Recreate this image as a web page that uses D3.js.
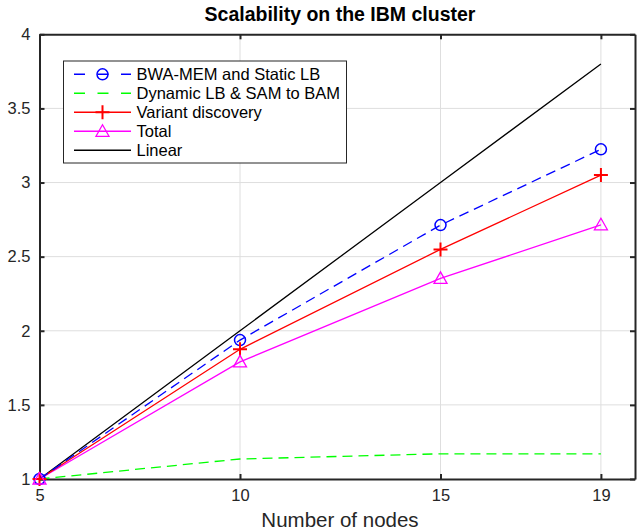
<!DOCTYPE html>
<html lang="en">
<head>
<meta charset="utf-8">
<title>Scalability</title>
<script src="https://cdn.jsdelivr.net/npm/d3@7"></script>
<style>
  body { margin: 0; background: #fff; }
  text { font-family: "Liberation Sans", Arial, sans-serif; }
</style>
</head>
<body>
<script>
// data
var nodes = [5, 10, 15, 19];
var bwaMem = [1, 1.937, 2.713, 3.224];
var dynamicLB = [1, 1.135, 1.17, 1.17];
var variantDisc = [1, 1.875, 2.549, 3.05];
var total = [1, 1.79, 2.353, 2.715];
var linear = [1, 2, 3, 3.8];
var yTicks = [1, 1.5, 2, 2.5, 3, 3.5, 4];

var series = [
  {name: "BWA-MEM and Static LB", values: bwaMem, color: "#0000ff", dash: "10,6", marker: "circle"},
  {name: "Dynamic LB & SAM to BAM", values: dynamicLB, color: "#00ff00", dash: "10,6", marker: null},
  {name: "Variant discovery", values: variantDisc, color: "#ff0000", dash: null, marker: "plus"},
  {name: "Total", values: total, color: "#ff00ff", dash: null, marker: "triangle"},
  {name: "Linear", values: linear, color: "#000000", dash: null, marker: null}
];

var width = 637, height = 531;
var plotLeft = 39.5, plotRight = 635, plotTop = 34.3, plotBottom = 479;

var xScale = d3.scaleLinear().domain([5, 19.85]).range([plotLeft, plotRight]);
var yScale = d3.scaleLinear().domain([1, 4]).range([plotBottom, plotTop]);

var svg = d3.select("body").append("svg")
    .attr("width", width)
    .attr("height", height);

// grid
svg.append("g").selectAll("line")
    .data(nodes.slice(1))
    .enter().append("line")
    .attr("x1", function(d) { return xScale(d); })
    .attr("x2", function(d) { return xScale(d); })
    .attr("y1", plotTop).attr("y2", plotBottom)
    .attr("stroke", "#dedede").attr("stroke-width", 1);

svg.append("g").selectAll("line")
    .data(yTicks.slice(1, -1))
    .enter().append("line")
    .attr("y1", function(d) { return yScale(d); })
    .attr("y2", function(d) { return yScale(d); })
    .attr("x1", plotLeft).attr("x2", plotRight)
    .attr("stroke", "#dedede").attr("stroke-width", 1);

// axes
var xAxis = d3.axisBottom(xScale).tickValues(nodes).tickSizeInner(-5).tickSizeOuter(0).tickPadding(10);
var yAxis = d3.axisLeft(yScale).tickValues(yTicks).tickFormat(String)
    .tickSizeInner(-5).tickSizeOuter(0).tickPadding(9);
var xTop = d3.axisTop(xScale).tickValues(nodes).tickSizeInner(-5).tickSizeOuter(0).tickFormat("");
var yRight = d3.axisRight(yScale).tickValues(yTicks).tickSizeInner(-5).tickSizeOuter(0).tickFormat("");

function styleAxis(g) {
  g.select(".domain").attr("stroke", "#262626").attr("stroke-width", 2);
  g.selectAll(".tick line").attr("stroke", "#262626").attr("stroke-width", 2);
  g.selectAll(".tick text").attr("fill", "#262626").style("font-size", "16.5px")
    .style("font-family", "'Liberation Sans', Arial, sans-serif");
}

svg.append("g").attr("transform", "translate(0," + plotBottom + ")").call(xAxis).call(styleAxis);
svg.append("g").attr("transform", "translate(" + plotLeft + ",0)").call(yAxis).call(styleAxis);
svg.append("g").attr("transform", "translate(0," + plotTop + ")").call(xTop).call(styleAxis);
svg.append("g").attr("transform", "translate(" + plotRight + ",0)").call(yRight).call(styleAxis);

// lines
var line = d3.line()
    .x(function(d, i) { return xScale(nodes[i]); })
    .y(function(d) { return yScale(d); });

function drawMarker(g, type, x, y, color) {
  if (type === "circle") {
    g.append("circle").attr("cx", x).attr("cy", y).attr("r", 5.5)
      .attr("fill", "none").attr("stroke", color).attr("stroke-width", 1.5);
  } else if (type === "plus") {
    g.append("path").attr("d", "M" + (x - 7) + "," + y + "H" + (x + 7) + "M" + x + "," + (y - 7) + "V" + (y + 7))
      .attr("stroke", color).attr("stroke-width", 2);
  } else if (type === "triangle") {
    g.append("path").attr("d", "M" + x + "," + (y - 6.5) + "L" + (x + 6.5) + "," + (y + 5) + "L" + (x - 6.5) + "," + (y + 5) + "Z")
      .attr("fill", "none").attr("stroke", color).attr("stroke-width", 1.3);
  }
}

var plot = svg.append("g");
series.slice().reverse().forEach(function(s) {
  plot.append("path")
    .datum(s.values)
    .attr("d", line)
    .attr("fill", "none")
    .attr("stroke", s.color)
    .attr("stroke-width", 1.3)
    .attr("stroke-dasharray", s.dash);
});
series.forEach(function(s) {
  if (!s.marker) return;
  s.values.forEach(function(v, i) {
    drawMarker(plot, s.marker, xScale(nodes[i]), yScale(v), s.color);
  });
});

// legend
var lg = svg.append("g");
lg.append("rect").attr("x", 63.5).attr("y", 61).attr("width", 283).attr("height", 102)
  .attr("fill", "#fff").attr("stroke", "#262626").attr("stroke-width", 1);
series.forEach(function(s, i) {
  var y = 74.3 + i * 19;
  lg.append("line").attr("x1", 74).attr("x2", 131).attr("y1", y).attr("y2", y)
    .attr("stroke", s.color).attr("stroke-width", 1.5)
    .attr("stroke-dasharray", s.dash ? "11,12.5" : null);
  if (s.marker) drawMarker(lg, s.marker, 102.5, y, s.color);
  lg.append("text").attr("x", 136.5).attr("y", y).attr("dy", "0.36em")
    .style("font-size", "16.5px").attr("fill", "#000").text(s.name);
});

// title and x label
svg.append("text").attr("x", 340).attr("y", 21).attr("text-anchor", "middle")
  .style("font-size", "19.5px").style("font-weight", "bold").attr("fill", "#000")
  .text("Scalability on the IBM cluster");
svg.append("text").attr("x", 340).attr("y", 527).attr("text-anchor", "middle")
  .style("font-size", "20.5px").attr("fill", "#262626")
  .text("Number of nodes");
</script>
</body>
</html>
